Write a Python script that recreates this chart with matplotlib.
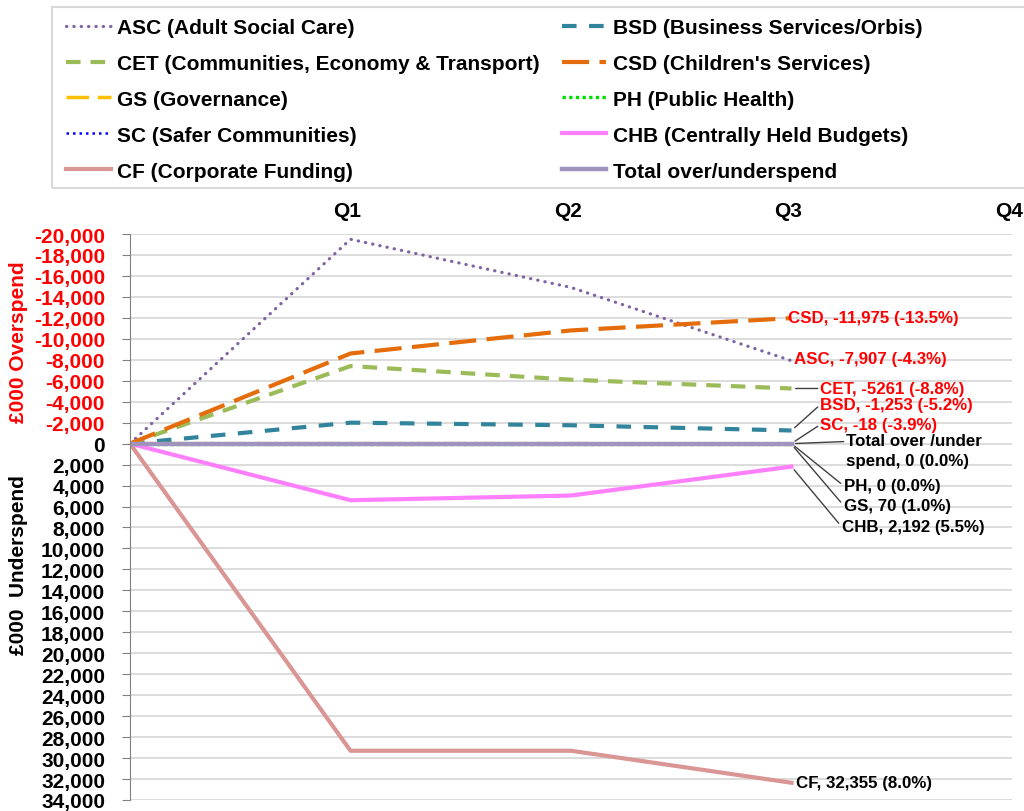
import matplotlib
matplotlib.use("Agg")
import matplotlib.pyplot as plt
import matplotlib.transforms as mtrans
from matplotlib.patches import Rectangle

plt.rcParams['font.family'] = ['Liberation Sans', 'DejaVu Sans']
plt.rcParams['font.weight'] = 'bold'

# data (£000, negative = overspend)
quarters = ['Q1', 'Q2', 'Q3', 'Q4']
x_pts = [0, 1, 2, 3]

asc = [0, -19500, -14900, -7907]
bsd = [0, -2000, -1750, -1253]
cet = [0, -7400, -6100, -5261]
csd = [0, -8600, -10800, -11975]
gs = [0, 0, 0, 70]
ph = [0, 0, 0, 0]
sc = [0, 40, 20, -18]
chb = [0, 5400, 4950, 2192]
cf = [0, 29300, 29300, 32355]
total = [0, 0, 0, 0]

names = ['ASC (Adult Social Care)', 'BSD (Business Services/Orbis)',
         'CET (Communities, Economy & Transport)', "CSD (Children's Services)",
         'GS (Governance)', 'PH (Public Health)', 'SC (Safer Communities)',
         'CHB (Centrally Held Budgets)', 'CF (Corporate Funding)',
         'Total over/underspend']
end_labels = ['ASC, -7,907 (-4.3%)', 'BSD, -1,253 (-5.2%)', 'CET, -5261 (-8.8%)',
              'CSD, -11,975 (-13.5%)', 'GS, 70 (1.0%)', 'PH, 0 (0.0%)',
              'SC, -18 (-3.9%)', 'CHB, 2,192 (5.5%)', 'CF, 32,355 (8.0%)',
              'Total over /under\nspend, 0 (0.0%)']

series = [asc, bsd, cet, csd, gs, ph, sc, chb, cf, total]

# styles
colors = ['#8064A2', '#31849B', '#9BBB59', '#E46C0A', '#FFC000', '#00E000',
          '#0000FF', '#FF80FF', '#D99694', '#A094BE']
styles = [(0, (0.1, 2.2)), (0, (3.5, 3)), (0, (3.5, 2.4)), (0, (6.5, 2.5)),
          (0, (6.5, 2.5)), (0, (1, 1)), (0, (1, 1.6)), '-', '-', '-']
widths = [2.3, 3, 3, 3, 2.5, 2.4, 1.8, 3, 3, 3.2]
caps = ['round', 'butt', 'butt', 'butt', 'butt', 'butt', 'butt', 'butt',
        'butt', 'butt']

# label offsets in pixels from the Q3 point, and text colour
offsets = [(3, 2), (29, 26), (29, 0), (-3, 1), (52, -61), (52, -42),
           (29, 19), (50, -60), (5, 0), (55, 1)]
lbl_colors = ['red', 'red', 'red', 'red', 'black', 'black', 'red', 'black',
              'black', 'black']
leader = [False, True, True, False, True, True, True, True, False, True]

fig = plt.figure(figsize=(10.24, 8.12), dpi=100)
ax = fig.add_axes([130/1024, 1-801/812, (1012-130)/1024, (801-235)/812])

lines = []
for s, c, ls, lw, cap in zip(series, colors, styles, widths, caps):
    ln, = ax.plot(x_pts, s, color=c, linestyle=ls, lw=lw, dash_capstyle=cap)
    lines.append(ln)

for i, s in enumerate(series):
    va = 'top' if '\n' in end_labels[i] else 'center'
    dy = offsets[i][1] + (10 if va == 'top' else 0)
    ap = None
    if leader[i]:
        ap = dict(arrowstyle='-', color='#404040', lw=1, shrinkA=0, shrinkB=3,
                  relpos=(0, 0.75 if va == 'top' else 0.5))
    ax.annotate(end_labels[i], xy=(x_pts[-1], s[-1]),
                xytext=(offsets[i][0], dy), textcoords='offset pixels',
                ha='left', va=va, fontsize=12.2, color=lbl_colors[i],
                fontweight='bold', arrowprops=ap, linespacing=1.45)

ax.set_xlim(0, 4)
ax.set_ylim(34000, -20000)
yt = list(range(-20000, 34001, 2000))
ax.set_yticks(yt)
ax.set_yticklabels([f'{v:,}' for v in yt], fontsize=15, fontweight='bold')
for t, v in zip(ax.get_yticklabels(), yt):
    t.set_color('red' if v < 0 else 'black')
ax.tick_params(axis='y', length=6, color='#808080', pad=12)

ax.xaxis.tick_top()
ax.set_xticks([1, 2, 3, 4])
ax.set_xticklabels(quarters, fontsize=15, fontweight='bold')
ax.tick_params(axis='x', length=0, pad=10)
shift = mtrans.ScaledTranslation(-3/100, 0, fig.dpi_scale_trans)
for t in ax.get_xticklabels():
    t.set_transform(t.get_transform() + shift)

ax.yaxis.grid(True, color='#d9d9d9', lw=1.3)
ax.set_axisbelow(True)
for sp in ['top', 'right', 'bottom']:
    ax.spines[sp].set_visible(False)
ax.spines['left'].set_color('#808080')

fig.text(19/1024, 1-342/812, '£000 Overspend', rotation=90, color='red',
         fontsize=15, fontweight='bold', ha='center', va='center')
fig.text(19/1024, 1-565/812, '£000  Underspend', rotation=90, color='black',
         fontsize=15, fontweight='bold', ha='center', va='center')

# legend, row-wise order
order = [0, 2, 4, 6, 8, 1, 3, 5, 7, 9]
fig.legend([lines[i] for i in order], [names[i] for i in order], ncol=2,
           loc='upper left', bbox_to_anchor=(66/1024, 1-19/812),
           frameon=False, prop=dict(size=15, weight='bold'),
           handlelength=2.15, handletextpad=0.3, columnspacing=1.05,
           labelspacing=0.81, borderpad=0, borderaxespad=0)
fig.patches.append(Rectangle((52/1024, 1-189/812), 1.0, 181/812,
                             transform=fig.transFigure, fill=False,
                             ec='#d9d9d9', lw=1.5))

fig.savefig('out.png', dpi=100)
